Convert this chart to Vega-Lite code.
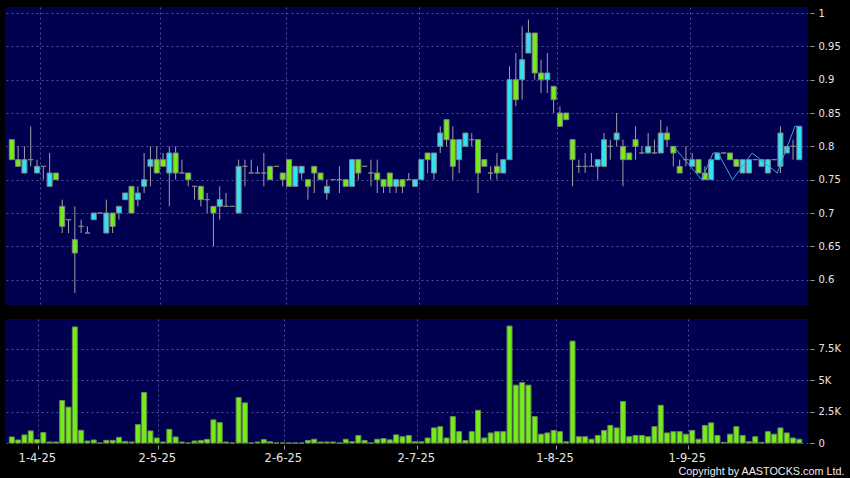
{
 "$schema": "https://vega.github.io/schema/vega-lite/v6.json",
 "background": "#000000",
 "padding": {"left": 5, "top": 7, "right": 9, "bottom": 3},
 "spacing": 14,
 "config": {
  "view": {"fill": "#000050", "stroke": null},
  "axis": {"gridColor": "#4e4e96", "gridDash": [2, 3], "gridWidth": 1, "domain": false, "tickColor": "#9a9a9a", "labelColor": "#e6e6e6", "labelFont": "DejaVu Sans", "labelOverlap": false, "title": null}
 },
 "title": {"text": "Copyright by AASTOCKS.com Ltd.", "orient": "bottom", "anchor": "end", "frame": "bounds", "color": "#ececec", "font": "Liberation Sans", "fontSize": 10.8, "fontWeight": "normal", "offset": 2, "dx": 4},
 "datasets": {
  "ohlc": [
   {"i":0,"o":0.81,"h":0.81,"l":0.78,"c":0.78,"v":480},
   {"i":1,"o":0.78,"h":0.80,"l":0.77,"c":0.77,"v":240},
   {"i":2,"o":0.76,"h":0.80,"l":0.76,"c":0.78,"v":640},
   {"i":3,"o":0.78,"h":0.83,"l":0.77,"c":0.78,"v":960},
   {"i":4,"o":0.76,"h":0.78,"l":0.76,"c":0.77,"v":270},
   {"i":5,"o":0.77,"h":0.77,"l":0.75,"c":0.77,"v":830},
   {"i":6,"o":0.74,"h":0.79,"l":0.74,"c":0.76,"v":80},
   {"i":7,"o":0.76,"h":0.76,"l":0.75,"c":0.75,"v":80},
   {"i":8,"o":0.71,"h":0.72,"l":0.67,"c":0.68,"v":3380},
   {"i":9,"o":0.69,"h":0.69,"l":0.67,"c":0.69,"v":2850},
   {"i":10,"o":0.66,"h":0.71,"l":0.58,"c":0.64,"v":9230},
   {"i":11,"o":0.68,"h":0.69,"l":0.67,"c":0.68,"v":1010},
   {"i":12,"o":0.67,"h":0.68,"l":0.67,"c":0.67,"v":160},
   {"i":13,"o":0.69,"h":0.70,"l":0.69,"c":0.70,"v":240},
   {"i":14,"o":0.70,"h":0.70,"l":0.70,"c":0.70,"v":0},
   {"i":15,"o":0.67,"h":0.72,"l":0.67,"c":0.70,"v":210},
   {"i":16,"o":0.70,"h":0.70,"l":0.67,"c":0.68,"v":210},
   {"i":17,"o":0.70,"h":0.71,"l":0.69,"c":0.71,"v":450},
   {"i":18,"o":0.72,"h":0.73,"l":0.72,"c":0.73,"v":130},
   {"i":19,"o":0.74,"h":0.74,"l":0.70,"c":0.70,"v":80},
   {"i":20,"o":0.72,"h":0.74,"l":0.71,"c":0.73,"v":1460},
   {"i":21,"o":0.74,"h":0.79,"l":0.73,"c":0.75,"v":4020},
   {"i":22,"o":0.77,"h":0.80,"l":0.74,"c":0.78,"v":960},
   {"i":23,"o":0.78,"h":0.80,"l":0.76,"c":0.76,"v":400},
   {"i":24,"o":0.78,"h":0.79,"l":0.77,"c":0.77,"v":80},
   {"i":25,"o":0.76,"h":0.80,"l":0.71,"c":0.79,"v":1090},
   {"i":26,"o":0.79,"h":0.80,"l":0.75,"c":0.76,"v":480},
   {"i":27,"o":0.76,"h":0.78,"l":0.76,"c":0.76,"v":80},
   {"i":28,"o":0.76,"h":0.76,"l":0.74,"c":0.75,"v":0},
   {"i":29,"o":0.74,"h":0.74,"l":0.72,"c":0.74,"v":160},
   {"i":30,"o":0.74,"h":0.74,"l":0.71,"c":0.72,"v":210},
   {"i":31,"o":0.72,"h":0.73,"l":0.70,"c":0.72,"v":290},
   {"i":32,"o":0.71,"h":0.71,"l":0.65,"c":0.70,"v":1840},
   {"i":33,"o":0.71,"h":0.74,"l":0.69,"c":0.72,"v":1620},
   {"i":34,"o":0.71,"h":0.73,"l":0.71,"c":0.71,"v":80},
   {"i":35,"o":0.71,"h":0.71,"l":0.71,"c":0.71,"v":0},
   {"i":36,"o":0.70,"h":0.78,"l":0.70,"c":0.77,"v":3620},
   {"i":37,"o":0.77,"h":0.78,"l":0.74,"c":0.77,"v":3190},
   {"i":38,"o":0.76,"h":0.78,"l":0.76,"c":0.76,"v":0},
   {"i":39,"o":0.76,"h":0.77,"l":0.76,"c":0.76,"v":80},
   {"i":40,"o":0.76,"h":0.79,"l":0.74,"c":0.76,"v":270},
   {"i":41,"o":0.77,"h":0.77,"l":0.75,"c":0.75,"v":100},
   {"i":42,"o":0.77,"h":0.77,"l":0.77,"c":0.77,"v":0},
   {"i":43,"o":0.76,"h":0.76,"l":0.74,"c":0.75,"v":0},
   {"i":44,"o":0.78,"h":0.78,"l":0.74,"c":0.74,"v":0},
   {"i":45,"o":0.74,"h":0.77,"l":0.74,"c":0.77,"v":0},
   {"i":46,"o":0.76,"h":0.77,"l":0.75,"c":0.77,"v":0},
   {"i":47,"o":0.75,"h":0.75,"l":0.72,"c":0.74,"v":200},
   {"i":48,"o":0.77,"h":0.77,"l":0.73,"c":0.76,"v":300},
   {"i":49,"o":0.76,"h":0.76,"l":0.75,"c":0.75,"v":80},
   {"i":50,"o":0.73,"h":0.75,"l":0.72,"c":0.74,"v":80},
   {"i":51,"o":0.75,"h":0.75,"l":0.75,"c":0.75,"v":80},
   {"i":52,"o":0.75,"h":0.77,"l":0.73,"c":0.75,"v":0},
   {"i":53,"o":0.75,"h":0.75,"l":0.74,"c":0.74,"v":300},
   {"i":54,"o":0.74,"h":0.78,"l":0.74,"c":0.78,"v":100},
   {"i":55,"o":0.78,"h":0.78,"l":0.75,"c":0.76,"v":600},
   {"i":56,"o":0.77,"h":0.77,"l":0.77,"c":0.77,"v":200},
   {"i":57,"o":0.76,"h":0.78,"l":0.74,"c":0.76,"v":0},
   {"i":58,"o":0.76,"h":0.78,"l":0.73,"c":0.75,"v":300},
   {"i":59,"o":0.75,"h":0.75,"l":0.73,"c":0.74,"v":350},
   {"i":60,"o":0.76,"h":0.76,"l":0.73,"c":0.74,"v":250},
   {"i":61,"o":0.74,"h":0.75,"l":0.73,"c":0.75,"v":650},
   {"i":62,"o":0.75,"h":0.75,"l":0.73,"c":0.74,"v":500},
   {"i":63,"o":0.75,"h":0.76,"l":0.75,"c":0.75,"v":600},
   {"i":64,"o":0.74,"h":0.75,"l":0.74,"c":0.75,"v":100},
   {"i":65,"o":0.75,"h":0.78,"l":0.75,"c":0.78,"v":100},
   {"i":66,"o":0.79,"h":0.79,"l":0.76,"c":0.78,"v":400},
   {"i":67,"o":0.76,"h":0.79,"l":0.75,"c":0.79,"v":1200},
   {"i":68,"o":0.80,"h":0.83,"l":0.79,"c":0.82,"v":1300},
   {"i":69,"o":0.84,"h":0.84,"l":0.80,"c":0.81,"v":400},
   {"i":70,"o":0.81,"h":0.83,"l":0.75,"c":0.77,"v":2100},
   {"i":71,"o":0.78,"h":0.81,"l":0.76,"c":0.81,"v":900},
   {"i":72,"o":0.80,"h":0.82,"l":0.80,"c":0.82,"v":200},
   {"i":73,"o":0.81,"h":0.82,"l":0.80,"c":0.81,"v":900},
   {"i":74,"o":0.81,"h":0.81,"l":0.73,"c":0.76,"v":2600},
   {"i":75,"o":0.78,"h":0.78,"l":0.77,"c":0.77,"v":400},
   {"i":76,"o":0.76,"h":0.77,"l":0.75,"c":0.76,"v":800},
   {"i":77,"o":0.77,"h":0.79,"l":0.75,"c":0.76,"v":900},
   {"i":78,"o":0.76,"h":0.78,"l":0.76,"c":0.78,"v":900},
   {"i":79,"o":0.78,"h":0.92,"l":0.78,"c":0.90,"v":9300},
   {"i":80,"o":0.90,"h":0.94,"l":0.86,"c":0.87,"v":4600},
   {"i":81,"o":0.90,"h":0.98,"l":0.87,"c":0.93,"v":4800},
   {"i":82,"o":0.94,"h":0.99,"l":0.94,"c":0.97,"v":4600},
   {"i":83,"o":0.97,"h":0.97,"l":0.90,"c":0.91,"v":2100},
   {"i":84,"o":0.91,"h":0.93,"l":0.88,"c":0.90,"v":700},
   {"i":85,"o":0.90,"h":0.94,"l":0.88,"c":0.91,"v":800},
   {"i":86,"o":0.89,"h":0.89,"l":0.85,"c":0.87,"v":1000},
   {"i":87,"o":0.85,"h":0.86,"l":0.83,"c":0.83,"v":900},
   {"i":88,"o":0.85,"h":0.85,"l":0.84,"c":0.84,"v":100},
   {"i":89,"o":0.81,"h":0.81,"l":0.74,"c":0.78,"v":8100},
   {"i":90,"o":0.77,"h":0.78,"l":0.76,"c":0.77,"v":500},
   {"i":91,"o":0.77,"h":0.79,"l":0.76,"c":0.77,"v":500},
   {"i":92,"o":0.77,"h":0.79,"l":0.77,"c":0.77,"v":300},
   {"i":93,"o":0.77,"h":0.78,"l":0.75,"c":0.78,"v":600},
   {"i":94,"o":0.77,"h":0.82,"l":0.77,"c":0.81,"v":1000},
   {"i":95,"o":0.80,"h":0.81,"l":0.78,"c":0.80,"v":1400},
   {"i":96,"o":0.81,"h":0.85,"l":0.80,"c":0.82,"v":1200},
   {"i":97,"o":0.80,"h":0.81,"l":0.74,"c":0.78,"v":3300},
   {"i":98,"o":0.79,"h":0.79,"l":0.78,"c":0.78,"v":500},
   {"i":99,"o":0.81,"h":0.83,"l":0.78,"c":0.80,"v":600},
   {"i":100,"o":0.79,"h":0.80,"l":0.79,"c":0.79,"v":600},
   {"i":101,"o":0.79,"h":0.82,"l":0.79,"c":0.80,"v":500},
   {"i":102,"o":0.79,"h":0.81,"l":0.79,"c":0.79,"v":1300},
   {"i":103,"o":0.79,"h":0.84,"l":0.79,"c":0.82,"v":3000},
   {"i":104,"o":0.82,"h":0.83,"l":0.80,"c":0.81,"v":800},
   {"i":105,"o":0.80,"h":0.80,"l":0.77,"c":0.79,"v":900},
   {"i":106,"o":0.77,"h":0.78,"l":0.76,"c":0.76,"v":900},
   {"i":107,"o":0.78,"h":0.80,"l":0.77,"c":0.78,"v":700},
   {"i":108,"o":0.77,"h":0.79,"l":0.77,"c":0.78,"v":1000},
   {"i":109,"o":0.78,"h":0.78,"l":0.76,"c":0.76,"v":300},
   {"i":110,"o":0.76,"h":0.77,"l":0.75,"c":0.75,"v":1400},
   {"i":111,"o":0.75,"h":0.78,"l":0.75,"c":0.78,"v":1600},
   {"i":112,"o":0.78,"h":0.79,"l":0.78,"c":0.79,"v":600},
   {"i":113,"o":0.79,"h":0.79,"l":0.79,"c":0.79,"v":50},
   {"i":114,"o":0.79,"h":0.79,"l":0.78,"c":0.78,"v":700},
   {"i":115,"o":0.78,"h":0.78,"l":0.77,"c":0.77,"v":1300},
   {"i":116,"o":0.76,"h":0.78,"l":0.76,"c":0.78,"v":600},
   {"i":117,"o":0.76,"h":0.78,"l":0.76,"c":0.78,"v":100},
   {"i":118,"o":0.78,"h":0.78,"l":0.78,"c":0.78,"v":500},
   {"i":119,"o":0.77,"h":0.78,"l":0.77,"c":0.78,"v":50},
   {"i":120,"o":0.76,"h":0.78,"l":0.76,"c":0.78,"v":900},
   {"i":121,"o":0.78,"h":0.78,"l":0.78,"c":0.78,"v":700},
   {"i":122,"o":0.77,"h":0.83,"l":0.76,"c":0.82,"v":1200},
   {"i":123,"o":0.79,"h":0.80,"l":0.79,"c":0.80,"v":800},
   {"i":124,"o":0.80,"h":0.81,"l":0.78,"c":0.80,"v":400},
   {"i":125,"o":0.78,"h":0.83,"l":0.78,"c":0.83,"v":300}
  ],
  "zig": [
   {"i":105.0,"p":0.80},
   {"i":109.5,"p":0.75},
   {"i":111.3,"p":0.79},
   {"i":112.1,"p":0.79},
   {"i":114.4,"p":0.75},
   {"i":117.5,"p":0.79},
   {"i":121.5,"p":0.76},
   {"i":124.3,"p":0.83},
   {"i":125.0,"p":0.83}
  ]
 },
 "vconcat": [
  {
   "width": 803,
   "height": 298,
   "data": {"name": "ohlc"},
   "layer": [
    {"mark": {"type": "rule", "color": "#a0a0a0", "strokeWidth": 1},
     "encoding": {
      "x": {"field": "i", "type": "quantitative", "scale": {"domain": [-0.29, 125.58], "nice": false, "zero": false},
        "axis": {"orient": "bottom", "values": [4.45, 23.5, 43.5, 64.6, 86.6, 107.6], "labels": false, "ticks": false, "grid": true, "offset": 0}},
      "y": {"field": "l", "type": "quantitative", "scale": {"domain": [0.562, 1.009], "nice": false, "zero": false},
        "axis": {"orient": "right", "values": [0.6, 0.65, 0.7, 0.75, 0.8, 0.85, 0.9, 0.95, 1], "format": "~g", "grid": true, "offset": 2, "tickSize": 4, "labelPadding": 4, "labelFontSize": 10}},
      "y2": {"field": "h"}
     }},
    {"mark": {"type": "bar", "size": 5, "stroke": "#848484", "strokeWidth": 1},
     "encoding": {
      "x": {"field": "i", "type": "quantitative", "scale": {"domain": [-0.29, 125.58], "nice": false, "zero": false},
        "axis": {"orient": "bottom", "values": [4.45, 23.5, 43.5, 64.6, 86.6, 107.6], "labels": false, "ticks": false, "grid": true, "offset": 0}},
      "y": {"field": "o", "type": "quantitative", "scale": {"domain": [0.562, 1.009], "nice": false, "zero": false},
        "axis": {"orient": "right", "values": [0.6, 0.65, 0.7, 0.75, 0.8, 0.85, 0.9, 0.95, 1], "format": "~g", "grid": true, "offset": 2, "tickSize": 4, "labelPadding": 4, "labelFontSize": 10}},
      "y2": {"field": "c"},
      "fill": {"condition": {"test": "datum.c > datum.o", "value": "#30e2f6"}, "value": "#72ee16"}
     }},
    {"data": {"name": "zig"}, "mark": {"type": "line", "color": "#3d9fe6", "strokeWidth": 1},
     "encoding": {
      "x": {"field": "i", "type": "quantitative", "scale": {"domain": [-0.29, 125.58], "nice": false, "zero": false},
        "axis": {"orient": "bottom", "values": [4.45, 23.5, 43.5, 64.6, 86.6, 107.6], "labels": false, "ticks": false, "grid": true, "offset": 0}},
      "y": {"field": "p", "type": "quantitative", "scale": {"domain": [0.562, 1.009], "nice": false, "zero": false},
        "axis": {"orient": "right", "values": [0.6, 0.65, 0.7, 0.75, 0.8, 0.85, 0.9, 0.95, 1], "format": "~g", "grid": true, "offset": 2, "tickSize": 4, "labelPadding": 4, "labelFontSize": 10}}
     }}
   ]
  },
  {
   "width": 803,
   "height": 124,
   "data": {"name": "ohlc"},
   "mark": {"type": "bar", "size": 5, "fill": "#72ee16", "stroke": "#6a8a50", "strokeWidth": 1},
   "encoding": {
    "x": {"field": "i", "type": "quantitative", "scale": {"domain": [-0.29, 125.58], "nice": false, "zero": false},
      "axis": {"orient": "bottom", "values": [4.45, 23.5, 43.5, 64.6, 86.6, 107.6], "grid": true, "offset": 2, "tickSize": 4, "tickOffset": -1.5, "labelOffset": -1.5, "labelPadding": 3, "labelFontSize": 11.5,
        "labelExpr": "datum.value < 10 ? '1-4-25' : datum.value < 30 ? '2-5-25' : datum.value < 50 ? '2-6-25' : datum.value < 70 ? '2-7-25' : datum.value < 90 ? '1-8-25' : '1-9-25'"}},
    "y": {"field": "v", "type": "quantitative", "scale": {"domain": [0, 9860], "nice": false},
      "axis": {"orient": "right", "values": [0, 2500, 5000, 7500], "grid": true, "offset": 2, "tickSize": 4, "labelPadding": 4, "labelFontSize": 10,
        "labelExpr": "datum.value == 0 ? '0' : format(datum.value / 1000, '~g') + 'K'"}}
   }
  }
 ]
}
